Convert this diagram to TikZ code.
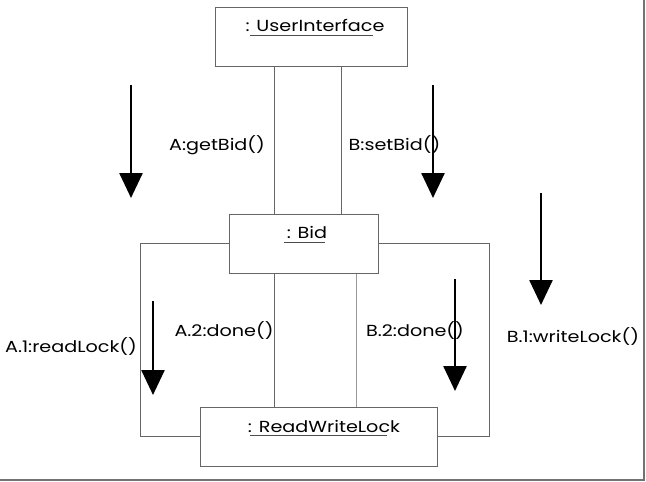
\documentclass[tikz,border=0pt]{standalone}
\usepackage{fontspec}
\usepackage{graphicx}
\setmainfont{Poppins}
\usetikzlibrary{arrows.meta}
\newcommand{\stretchtxt}[1]{\scalebox{1.2}[1]{#1}}
\tikzset{
  objbox/.style={draw=black!60, line width=1pt, inner sep=0pt, fill=white},
  conn/.style={draw=black!60, line width=1pt},
  lbl/.style={font=\fontsize{16pt}{18pt}\selectfont, inner sep=0pt, anchor=center},
  msgarrow/.style={line width=2.6pt, -{Triangle[width=23pt,length=25pt]}},
  ul/.style={draw=black!70, line width=0.9pt},
  frameline/.style={draw=black!55, line width=1.6pt}
}
\begin{document}
\begin{tikzpicture}[x=1pt,y=-1pt]
\useasboundingbox (0,0) rectangle (646,482);
\fill[white] (0,0) rectangle (646,482);
% frame (right and bottom)
\coordinate (fa) at (644,0);
\coordinate (fb) at (644,480);
\coordinate (fc) at (0,480);
\draw[frameline] (fa) -- (fb) -- (fc);
% boxes
\node[objbox, minimum width=192pt, minimum height=59pt] (ui) at (311,36.5) {};
\node[objbox, minimum width=149pt, minimum height=59pt] (bid) at (303.5,243.5) {};
\node[objbox, minimum width=237pt, minimum height=59pt] (rwl) at (318.5,436.5) {};
% box titles
\node[lbl] (uit) at (315,25) {\stretchtxt{: UserInterface}};
\draw[ul] (250,35) -- (373,35);
\node[lbl] (bidt) at (307,232) {\stretchtxt{: Bid}};
\draw[ul] (284,242) -- (325,242);
\node[lbl] (rwlt) at (324,426) {\stretchtxt{: ReadWriteLock}};
\draw[ul] (250,435) -- (387,435);
% connectors UI - Bid
\coordinate (c1) at (274,0);
\coordinate (c2) at (341,0);
\draw[conn] (c1 |- ui.south) -- (c1 |- bid.north);
\draw[conn] (c2 |- ui.south) -- (c2 |- bid.north);
% connectors Bid - RWL
\coordinate (c3) at (274,0);
\coordinate (c4) at (356,0);
\draw[conn] (c3 |- bid.south) -- (c3 |- rwl.north);
\draw[conn, draw=black!40] (c4 |- bid.south) -- (c4 |- rwl.north);
% loops
\coordinate (lx) at (140,0);
\coordinate (rx) at (489,0);
\draw[conn] (bid.west) -- (bid.west -| lx) -- (rwl.west -| lx) -- (rwl.west);
\draw[conn] (bid.east) -- (bid.east -| rx) -- (rwl.east -| rx) -- (rwl.east);
% message arrows
\coordinate (a1s) at (131,85);  \coordinate (a1e) at (131,198);
\coordinate (a2s) at (433,85);  \coordinate (a2e) at (433,198);
\coordinate (a3s) at (541,193); \coordinate (a3e) at (541,305);
\coordinate (a4s) at (153,301); \coordinate (a4e) at (153,395);
\coordinate (a5s) at (455,279); \coordinate (a5e) at (455,391);
% labels
\node[lbl] (m1) at (217,145) {\stretchtxt{A:getBid()}};
\node[lbl] (m2) at (394.5,145) {\stretchtxt{B:setBid()}};
\node[lbl] (m3) at (71,347) {\stretchtxt{A.1:readLock()}};
\node[lbl] (m4) at (224,331) {\stretchtxt{A.2:done()}};
\node[lbl] (m5) at (415,331) {\stretchtxt{B.2:done()}};
\node[lbl] (m6) at (573,337) {\stretchtxt{B.1:writeLock()}};
\draw[msgarrow] (a1s) -- (a1e);
\draw[msgarrow] (a2s) -- (a2e);
\draw[msgarrow] (a3s) -- (a3e);
\draw[msgarrow] (a4s) -- (a4e);
\draw[msgarrow] (a5s) -- (a5e);
\end{tikzpicture}
\end{document}
